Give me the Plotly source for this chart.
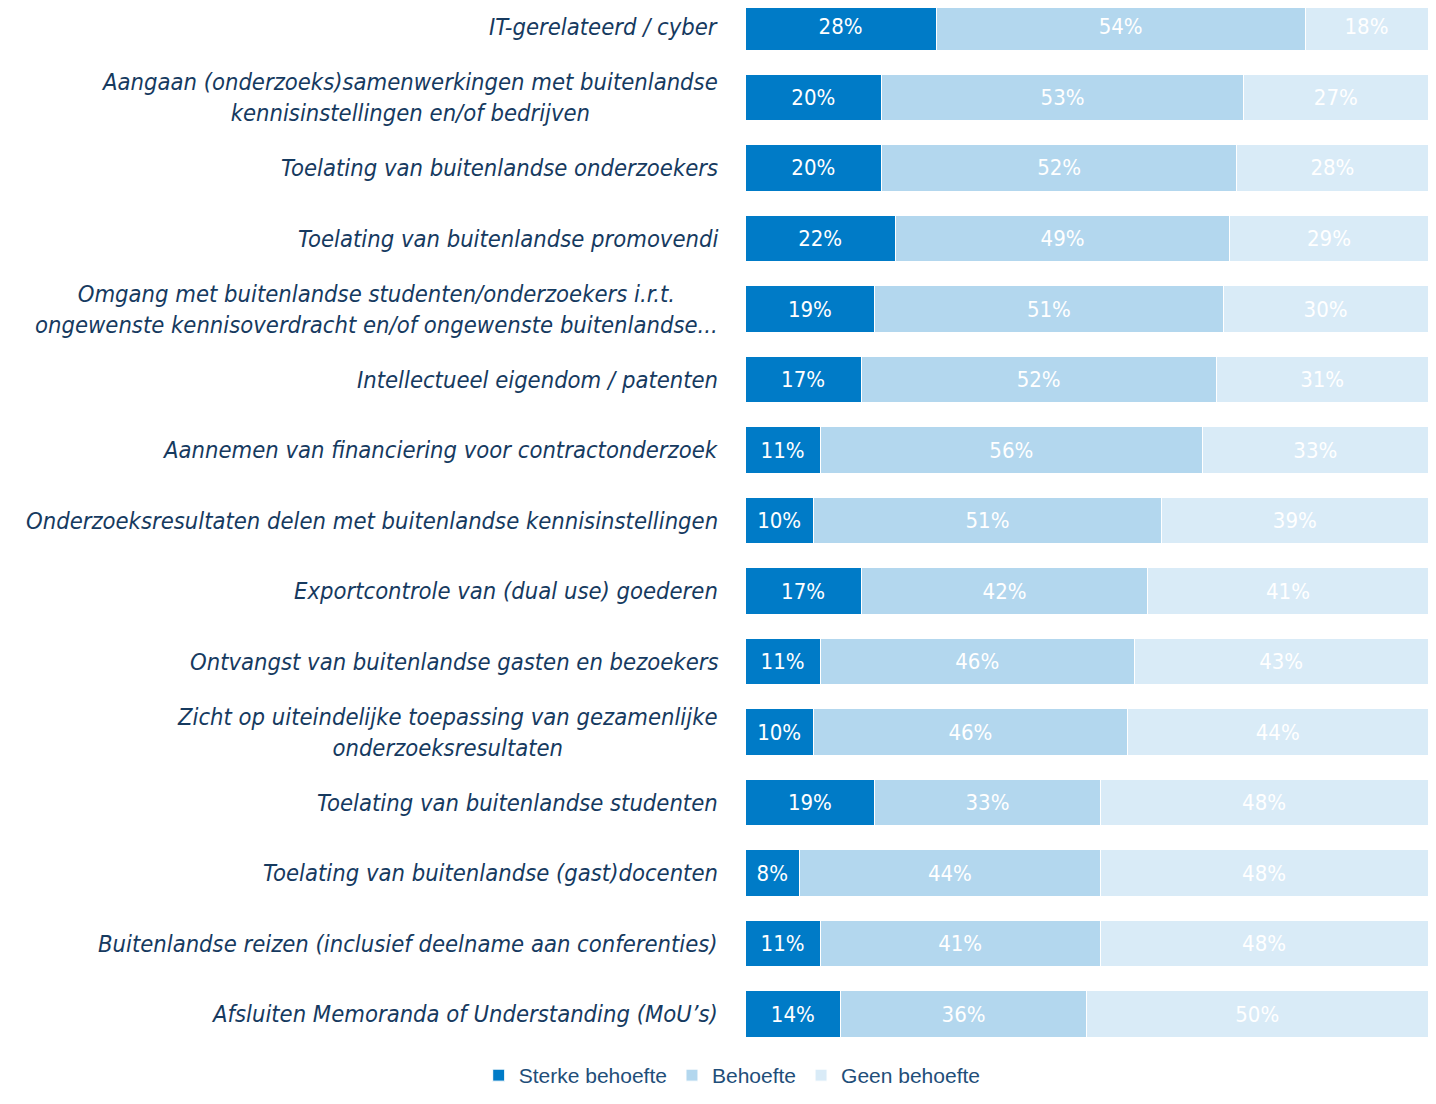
import plotly.graph_objects as go

categories = [
    "IT-gerelateerd / cyber",
    "Aangaan (onderzoeks)samenwerkingen met buitenlandse<br>kennisinstellingen en/of bedrijven",
    "Toelating van buitenlandse onderzoekers",
    "Toelating van buitenlandse promovendi",
    "Omgang met buitenlandse studenten/onderzoekers i.r.t.<br>ongewenste kennisoverdracht en/of ongewenste buitenlandse...",
    "Intellectueel eigendom / patenten",
    "Aannemen van financiering voor contractonderzoek",
    "Onderzoeksresultaten delen met buitenlandse kennisinstellingen",
    "Exportcontrole van (dual use) goederen",
    "Ontvangst van buitenlandse gasten en bezoekers",
    "Zicht op uiteindelijke toepassing van gezamenlijke<br>onderzoeksresultaten",
    "Toelating van buitenlandse studenten",
    "Toelating van buitenlandse (gast)docenten",
    "Buitenlandse reizen (inclusief deelname aan conferenties)",
    "Afsluiten Memoranda of Understanding (MoU’s)",
]
sterke = [28, 20, 20, 22, 19, 17, 11, 10, 17, 11, 10, 19, 8, 11, 14]
behoefte = [54, 53, 52, 49, 51, 52, 56, 51, 42, 46, 46, 33, 44, 41, 36]
geen = [18, 27, 28, 29, 30, 31, 33, 39, 41, 43, 44, 48, 48, 48, 50]

series = [
    ("Sterke behoefte", sterke, "#007BC7"),
    ("Behoefte", behoefte, "#B3D7EE"),
    ("Geen behoefte", geen, "#D9EBF7"),
]

ids = list(range(len(categories)))
fig = go.Figure()
for name, vals, col in series:
    fig.add_trace(go.Bar(
        y=ids, x=vals, name=name, orientation="h",
        marker=dict(color=col, line=dict(color="white", width=1)),
        text=[f"{v}%" for v in vals], textposition="inside",
        insidetextanchor="middle",
        textfont=dict(color="white", size=22, family="DejaVu Sans Condensed"),
        constraintext="none",
    ))

label_font = dict(family="DejaVu Sans Condensed", size=23.6, color="#163a5f", style="italic")
for i, c in zip(ids, categories):
    fig.add_annotation(x=0, xref="paper", y=i, yref="y", text=c, showarrow=False,
                       xanchor="right", xshift=-25, align="center", font=label_font)

fig.update_layout(
    width=1420, height=1088,
    barmode="stack", bargap=0.34,
    margin=dict(l=737, r=0, t=0, b=40),
    plot_bgcolor="white", paper_bgcolor="white",
    xaxis=dict(range=[0, 100], visible=False, fixedrange=True),
    yaxis=dict(range=[14.58, -0.269], showticklabels=False, showgrid=False,
               zeroline=False, tickvals=[]),
    showlegend=True,
    legend=dict(orientation="h", xref="container", yref="container",
                x=0.51, xanchor="center", y=0.0, yanchor="bottom",
                font=dict(family="Liberation Sans", size=21, color="#1f4e79"),
                traceorder="normal"),
    uniformtext=dict(minsize=8, mode="show"),
)

fig.write_html("out.html")
